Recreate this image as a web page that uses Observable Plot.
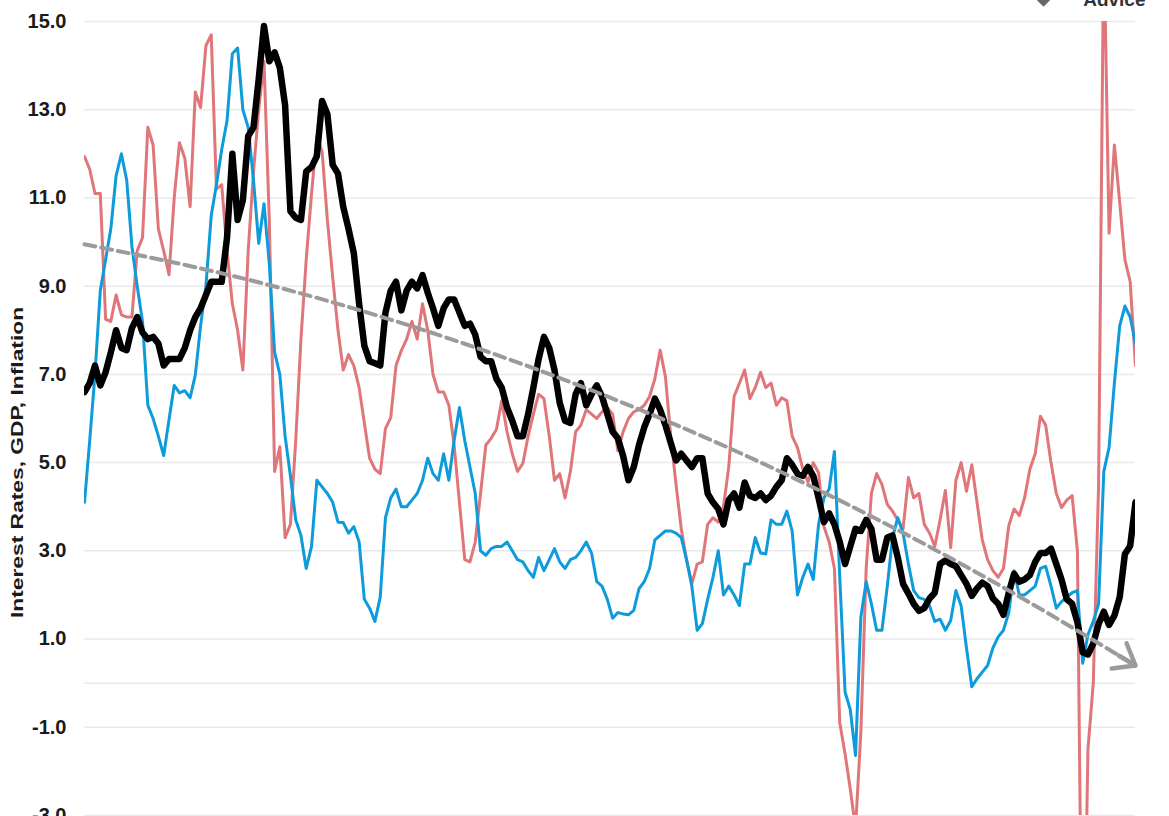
<!DOCTYPE html>
<html>
<head>
<meta charset="utf-8">
<script src="https://cdn.jsdelivr.net/npm/d3@7"></script>
<script src="https://cdn.jsdelivr.net/npm/@observablehq/plot@0.6"></script>
<style>
  html, body { margin: 0; padding: 0; background: #fff; }
  #chart { width: 1169px; height: 816px; overflow: hidden; }
</style>
</head>
<body>
<div id="chart"></div>
<script>
// ---- Data (quarterly, first quarter = 1973 Q1) ----
const startYear = 1973;

// 10-year Treasury yield (black)
const tenYear = [
  6.6, 6.8, 7.2, 6.75,
  7.05, 7.5, 8.0, 7.6,
  7.55, 8.05, 8.3, 7.95,
  7.8, 7.85, 7.7, 7.2,
  7.35, 7.35, 7.35, 7.6,
  8.0, 8.3, 8.5, 8.8,
  9.1, 9.1, 9.1, 10.1,
  12.0, 10.5, 10.95, 12.4,
  12.6, 13.7, 14.9, 14.1,
  14.3, 13.95, 13.1, 10.7,
  10.55, 10.5, 11.6, 11.7,
  11.95, 13.2, 12.9, 11.75,
  11.55, 10.8, 10.3, 9.75,
  8.6, 7.65, 7.3, 7.25,
  7.2, 8.4, 8.9, 9.1,
  8.45, 8.9, 9.1, 8.95,
  9.25, 8.85, 8.5, 8.1,
  8.5, 8.7, 8.7, 8.4,
  8.1, 8.15, 7.9, 7.4,
  7.3, 7.3, 6.9, 6.7,
  6.25, 5.95, 5.6, 5.6,
  6.1, 6.7, 7.35, 7.85,
  7.6, 7.1, 6.35, 5.95,
  5.9, 6.55, 6.8, 6.3,
  6.55, 6.75, 6.5, 6.1,
  5.7, 5.55, 5.15, 4.6,
  4.9, 5.4, 5.8, 6.1,
  6.45, 6.2, 5.85, 5.45,
  5.05, 5.2, 5.05, 4.9,
  5.1, 5.1, 4.3, 4.1,
  3.95, 3.6, 4.15, 4.3,
  3.98, 4.55, 4.25, 4.2,
  4.3, 4.15, 4.25, 4.45,
  4.6, 5.1, 4.95, 4.75,
  4.7, 4.9, 4.7, 4.2,
  3.65, 3.85, 3.6, 3.2,
  2.7, 3.1, 3.5, 3.45,
  3.7, 3.5, 2.8, 2.8,
  3.3, 3.35, 2.85, 2.25,
  2.03, 1.8, 1.64, 1.7,
  1.92, 2.05, 2.7, 2.78,
  2.7, 2.65, 2.45, 2.25,
  1.98, 2.15, 2.28, 2.2,
  1.92, 1.8, 1.55, 2.05,
  2.48, 2.3, 2.35, 2.45,
  2.75, 2.95, 2.95, 3.05,
  2.7, 2.35, 1.9, 1.8,
  1.38, 0.7, 0.65, 0.9,
  1.34, 1.62, 1.32, 1.53,
  1.95, 2.93, 3.11, 4.1
];

// CPI inflation, year over year (blue)
const inflation = [
  4.1, 5.5, 7.0, 8.9,
  9.6, 10.3, 11.5, 12.0,
  11.4, 9.9, 9.0, 8.2,
  6.3, 6.0, 5.6, 5.16,
  5.97, 6.75, 6.58, 6.63,
  6.47, 6.99, 8.1, 9.0,
  10.6, 11.3, 12.1, 12.75,
  14.27, 14.4, 13.0, 12.6,
  11.4, 9.97, 10.87, 9.5,
  7.5, 7.0, 5.6, 4.7,
  3.7, 3.35, 2.6, 3.1,
  4.6, 4.45, 4.3, 4.1,
  3.65, 3.64, 3.4, 3.55,
  3.2, 1.9, 1.7, 1.4,
  1.95, 3.75, 4.2, 4.4,
  4.0, 4.0, 4.15, 4.3,
  4.6, 5.1, 4.75, 4.6,
  5.2, 4.6, 5.5, 6.25,
  5.5, 4.9, 4.3, 3.0,
  2.9, 3.05, 3.1, 3.1,
  3.2, 3.0, 2.8, 2.75,
  2.55, 2.4, 2.85, 2.55,
  2.8, 3.05, 2.75, 2.6,
  2.8, 2.85, 3.0, 3.2,
  2.95, 2.3, 2.2, 1.9,
  1.47, 1.6, 1.57, 1.55,
  1.65, 2.14, 2.3, 2.6,
  3.25, 3.35, 3.45, 3.45,
  3.4, 3.3, 2.8, 2.2,
  1.2, 1.35, 1.9, 2.4,
  3.0, 2.0, 2.2, 2.0,
  1.76, 2.7, 2.7, 3.3,
  2.95, 2.93, 3.7, 3.6,
  3.6, 3.9, 3.45, 2.0,
  2.4, 2.7, 2.35, 3.6,
  4.2, 4.4, 5.25, 2.4,
  -0.2, -0.6, -1.64, 1.5,
  2.3, 1.8, 1.2, 1.2,
  2.2, 3.3, 3.75, 3.4,
  2.7, 2.1, 1.94, 1.9,
  1.75, 1.4, 1.45, 1.2,
  1.42, 2.1, 1.75, 0.8,
  -0.08, 0.1, 0.25, 0.4,
  0.8, 1.05, 1.2, 1.6,
  2.55, 2.0, 2.0, 2.1,
  2.2, 2.6, 2.65, 2.2,
  1.7, 1.85, 1.95, 2.05,
  2.1, 0.45, 1.1, 1.4,
  1.8, 4.8, 5.34, 6.8,
  8.1, 8.55, 8.3, 7.7
];

// Nominal GDP growth, year over year (red)
const nominalGdp = [
  11.94, 11.65, 11.1, 11.1,
  8.25, 8.2, 8.8, 8.35,
  8.3, 8.3, 9.8, 10.1,
  12.6, 12.2, 10.3, 9.8,
  9.26, 11.0, 12.25, 11.9,
  10.8, 13.4, 13.05, 14.45,
  14.7, 11.2, 11.3, 9.8,
  8.6, 8.0, 7.1, 9.8,
  11.6, 13.0, 14.1, 10.5,
  4.8, 5.36, 3.3, 3.6,
  5.5, 7.8, 9.6, 11.1,
  12.4, 12.05, 10.5, 9.2,
  8.0, 7.1, 7.45, 7.2,
  6.7, 5.9, 5.1, 4.85,
  4.75, 5.77, 6.02, 7.2,
  7.54, 7.8, 8.2, 7.8,
  8.6, 8.0, 7.0, 6.6,
  6.6, 6.3, 5.4, 4.1,
  2.8, 2.75, 3.2, 4.3,
  5.4, 5.55, 5.75, 6.4,
  5.7, 5.2, 4.8, 4.98,
  5.6, 6.1, 6.55, 6.45,
  5.6, 4.6, 4.75, 4.2,
  4.8, 5.7, 5.85, 6.2,
  6.1, 6.0, 6.15, 6.25,
  6.1, 5.27, 5.7, 6.0,
  6.15, 6.2, 6.3, 6.5,
  6.9, 7.55, 6.95, 5.6,
  4.5, 3.5, 2.8, 2.25,
  2.7, 2.75, 3.6, 3.75,
  3.65, 4.0, 4.9, 6.5,
  6.8, 7.1, 6.45, 6.7,
  7.05, 6.7, 6.8, 6.3,
  6.47, 6.4, 5.6, 5.34,
  4.86, 4.55, 5.0, 4.77,
  3.55, 3.2, 2.6, -0.9,
  -1.6, -2.4, -3.3, -1.1,
  2.6, 4.3, 4.75, 4.5,
  4.05, 3.9, 3.7, 3.5,
  4.66, 4.2, 4.3, 3.6,
  3.4, 3.1, 3.7, 4.37,
  3.07, 4.6, 5.0, 4.35,
  4.95, 4.1, 3.25, 2.8,
  2.55, 2.4, 2.6, 3.57,
  3.95, 3.8, 4.2, 4.85,
  5.2, 6.05, 5.85, 5.0,
  4.3, 3.98, 4.15, 4.25,
  3.0, -8.5, -1.5, 0.0,
  4.5, 17.0, 10.2, 12.2,
  10.9, 9.6, 9.1, 7.2
];

// Downward trend (grey dashed), read at selected quarter indices
const trendQuarter = [0, 25, 50, 75, 100, 125, 150, 175, 199];
const trendValue   = [9.95, 9.32, 8.53, 7.57, 6.45, 5.17, 3.72, 2.1, 0.4];

// Axis
const yTicks = [15, 13, 11, 9, 7, 5, 3, 1, -1, -3];
const gridValues = [15, 13, 11, 9, 7, 5, 3, 1, 0, -1, -3];
const yLabel = "Interest Rates, GDP, Inflation";
const logoText = "Advice";

// ---- Build tables ----
const quarterDate = (i) => new Date(Date.UTC(startYear + Math.floor(i / 4), (i % 4) * 3, 1));
const quarters = tenYear.map((_, i) => quarterDate(i));

const rows = (values, series) => values.map((v, i) => ({date: quarters[i], value: v, series}));
const gdpRows = rows(nominalGdp, "Nominal GDP");
const cpiRows = rows(inflation, "Inflation");
const tenRows = rows(tenYear, "10-Year Treasury");
const trendRows = trendQuarter.map((q, k) => ({date: quarterDate(q), value: trendValue[k]}));
const arrowRows = [{
  x1: trendRows[trendRows.length - 2].date, y1: trendRows[trendRows.length - 2].value,
  x2: trendRows[trendRows.length - 1].date, y2: trendRows[trendRows.length - 1].value
}];

const labelFont = "'Liberation Sans Narrow', 'Arial Narrow', 'Liberation Sans', Arial, sans-serif";

const chart = Plot.plot({
  width: 1169,
  height: 816,
  marginTop: 21,
  marginBottom: 1,
  marginLeft: 84,
  marginRight: 34,
  style: {
    background: "#fff",
    fontFamily: labelFont,
    fontSize: "20px",
    fontWeight: "bold",
    color: "#1a1a1a",
    overflow: "visible"
  },
  x: {type: "utc", domain: [quarters[0], quarters[quarters.length - 1]], axis: null},
  y: {
    domain: [-3, 15],
    ticks: yTicks,
    tickFormat: d => d.toFixed(1),
    tickSize: 0,
    tickPadding: 18,
    label: null
  },
  marks: [
    Plot.ruleY(gridValues, {stroke: "#e9e9e9", strokeWidth: 1.5}),
    Plot.line(gdpRows, {x: "date", y: "value", stroke: "#E0767A", strokeWidth: 3, strokeLinejoin: "round", clip: true}),
    Plot.line(cpiRows, {x: "date", y: "value", stroke: "#0E9BDB", strokeWidth: 3, strokeLinejoin: "round", clip: true}),
    Plot.line(tenRows, {x: "date", y: "value", stroke: "#000", strokeWidth: 6.5, strokeLinejoin: "round", clip: true}),
    Plot.line(trendRows, {x: "date", y: "value", curve: "natural", stroke: "#9b9b9b", strokeWidth: 4, strokeDasharray: "11,6"}),
    Plot.arrow(arrowRows, {x1: "x1", y1: "y1", x2: "x2", y2: "y2", stroke: "#9b9b9b", strokeWidth: 4.5, headLength: 8, headAngle: 75, insetStart: 128}),
    Plot.text([yLabel], {text: d => d, frameAnchor: "left", textAnchor: "middle", lineAnchor: "middle", rotate: -90, dx: -67, dy: 44, fontSize: 22.8, fontWeight: "bold", fill: "#1a1a1a", fontFamily: "'Liberation Sans', Arial, sans-serif"}),
    Plot.text([logoText], {text: d => d, frameAnchor: "top-right", textAnchor: "end", lineAnchor: "bottom", dx: 10, dy: -16, fontSize: 19, fontWeight: "bold", fill: "#333", fontFamily: "'Liberation Sans', Arial, sans-serif"}),
    Plot.text(["◆"], {text: d => d, frameAnchor: "top-right", textAnchor: "middle", lineAnchor: "bottom", dx: -92, dy: -18, fontSize: 22, fill: "#666", fontFamily: "'DejaVu Sans', sans-serif"})
  ]
});

// The reference's rotated title is drawn with narrow glyphs: squeeze its glyph height.
d3.select(chart).selectAll("text")
  .filter(function () { return this.textContent === yLabel; })
  .attr("transform", function () { return (this.getAttribute("transform") || "") + " scale(1,0.72)"; });

document.getElementById("chart").append(chart);
</script>
</body>
</html>
